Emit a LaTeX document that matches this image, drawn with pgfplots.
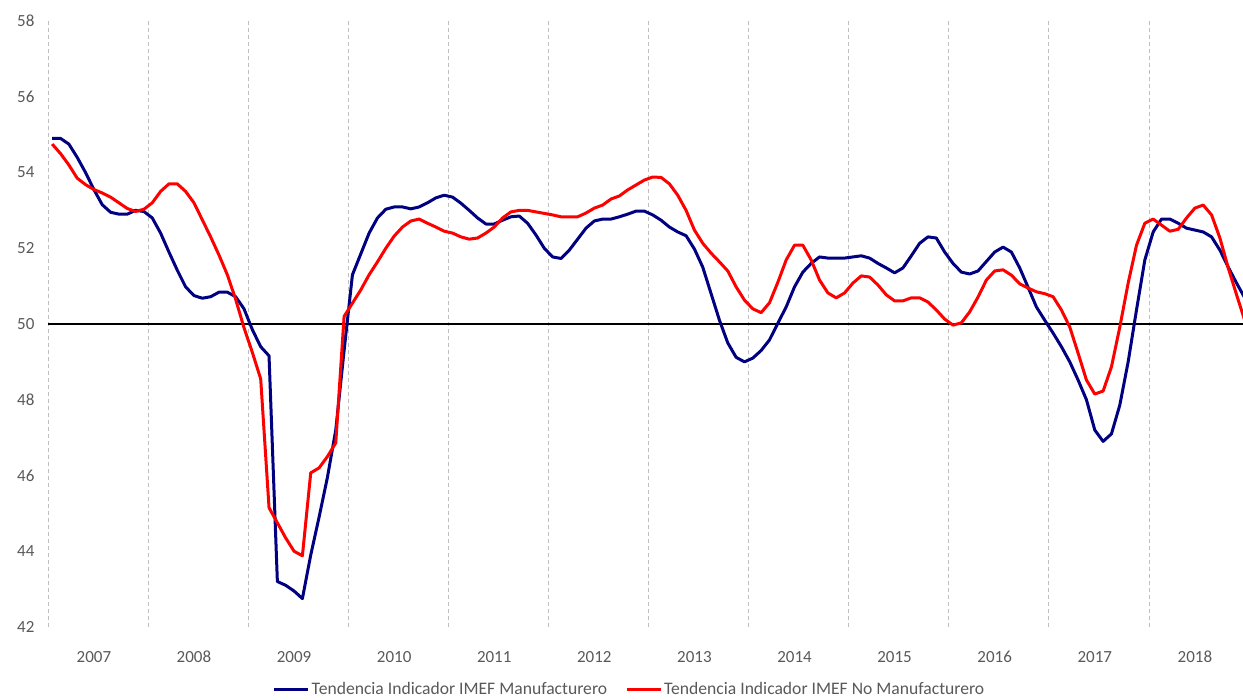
\documentclass[border=0pt]{standalone}
\usepackage{pgfplots}
\usepackage{pgfplotstable}
\pgfplotsset{compat=1.18}
\usepackage{fontspec}
\setmainfont{Carlito}
\definecolor{navyline}{RGB}{0,0,128}
\definecolor{redline}{RGB}{255,0,0}
\definecolor{textgray}{RGB}{89,89,89}
\definecolor{gridgray}{RGB}{191,191,191}
\pgfplotstableread{
i b r
0 54.9 54.75
1 54.9 54.5
2 54.75 54.2
3 54.4 53.85
4 54.0 53.68
5 53.55 53.55
6 53.15 53.46
7 52.95 53.35
8 52.9 53.2
9 52.9 53.05
10 53.0 52.97
11 52.97 53.03
12 52.8 53.2
13 52.4 53.5
14 51.9 53.7
15 51.42 53.7
16 50.98 53.5
17 50.75 53.2
18 50.68 52.75
19 50.72 52.3
20 50.84 51.82
21 50.84 51.3
22 50.72 50.65
23 50.4 49.9
24 49.85 49.25
25 49.4 48.55
26 49.16 45.15
27 43.2 44.75
28 43.1 44.35
29 42.95 44.0
30 42.75 43.88
31 43.9 46.07
32 44.9 46.2
33 45.95 46.5
34 47.2 46.86
35 49.3 50.2
36 51.3 50.55
37 51.85 50.9
38 52.4 51.3
39 52.8 51.64
40 53.03 52.0
41 53.09 52.32
42 53.09 52.56
43 53.04 52.72
44 53.09 52.77
45 53.2 52.66
46 53.33 52.56
47 53.4 52.45
48 53.35 52.4
49 53.19 52.3
50 53.0 52.24
51 52.8 52.27
52 52.64 52.4
53 52.64 52.56
54 52.74 52.8
55 52.83 52.96
56 52.85 53.0
57 52.66 53.0
58 52.35 52.96
59 52.0 52.92
60 51.77 52.88
61 51.73 52.83
62 51.95 52.83
63 52.24 52.83
64 52.53 52.93
65 52.72 53.06
66 52.77 53.14
67 52.77 53.3
68 52.83 53.38
69 52.9 53.54
70 52.98 53.67
71 52.98 53.8
72 52.88 53.88
73 52.74 53.87
74 52.56 53.7
75 52.43 53.4
76 52.33 53.0
77 51.98 52.48
78 51.5 52.13
79 50.8 51.87
80 50.1 51.64
81 49.5 51.4
82 49.12 50.98
83 49.0 50.63
84 49.1 50.4
85 49.3 50.3
86 49.58 50.56
87 50.02 51.1
88 50.45 51.69
89 50.98 52.08
90 51.37 52.08
91 51.6 51.69
92 51.77 51.16
93 51.74 50.82
94 51.74 50.69
95 51.74 50.82
96 51.77 51.08
97 51.8 51.27
98 51.74 51.24
99 51.6 51.03
100 51.48 50.77
101 51.35 50.61
102 51.48 50.61
103 51.8 50.69
104 52.13 50.69
105 52.3 50.58
106 52.27 50.37
107 51.9 50.13
108 51.6 49.97
109 51.37 50.03
110 51.32 50.32
111 51.4 50.71
112 51.65 51.16
113 51.9 51.4
114 52.03 51.43
115 51.9 51.29
116 51.48 51.06
117 50.97 50.95
118 50.45 50.85
119 50.1 50.8
120 49.76 50.72
121 49.4 50.37
122 49.0 49.92
123 48.52 49.23
124 48.0 48.52
125 47.2 48.15
126 46.9 48.23
127 47.1 48.87
128 47.86 49.92
129 49.0 51.08
130 50.37 52.08
131 51.69 52.66
132 52.43 52.77
133 52.77 52.61
134 52.77 52.45
135 52.66 52.5
136 52.53 52.8
137 52.48 53.06
138 52.43 53.14
139 52.3 52.88
140 51.95 52.27
141 51.5 51.48
142 51.08 50.77
143 50.68 50.08
}\datatable
\begin{document}
\begin{tikzpicture}
\path[use as bounding box] (0,0) rectangle (1243pt,700pt);
\begin{axis}[
  at={(48pt,73pt)}, anchor=south west,
  scale only axis, width=1195pt, height=606pt,
  xmin=-0.5, xmax=142.77, ymin=42, ymax=58,
  axis line style={draw=none},
  tick style={draw=none},
  ytick={42,44,...,58},
  xtick={5,17,...,137},
  xticklabels={2007,2008,2009,2010,2011,2012,2013,2014,2015,2016,2017,2018},
  minor xtick={-0.5,11.5,...,131.5},
  xminorgrids=true,
  minor grid style={gridgray, line width=1pt, dash pattern=on 4pt off 3pt},
  /pgf/number format/assume math mode=true,
  ticklabel style={font=\fontsize{17}{20}\selectfont, text=textgray},
  yticklabel style={xshift=-10pt},
  xticklabel style={yshift=-20pt, text height=11.5pt, text depth=0pt},
  legend columns=2,
  legend style={draw=none, fill=none, at={(0.4866,-0.103)}, anchor=center,
    font=\fontsize{17.6}{20}\selectfont, text=textgray,
    /tikz/every even column/.append style={column sep=16pt}},
  legend image code/.code={\draw[#1] (0pt,0pt) -- (34pt,0pt);},
  clip=true,
]
\draw[black, line width=1.3pt] (axis cs:-0.5,50) -- (axis cs:143,50);
\addplot[navyline, line width=3pt, line join=round] table[x=i, y=b] {\datatable};
\addlegendentry{Tendencia Indicador IMEF Manufacturero}
\addplot[redline, line width=3pt, line join=round] table[x=i, y=r] {\datatable};
\addlegendentry{Tendencia Indicador IMEF No Manufacturero}
\end{axis}
\end{tikzpicture}
\end{document}
